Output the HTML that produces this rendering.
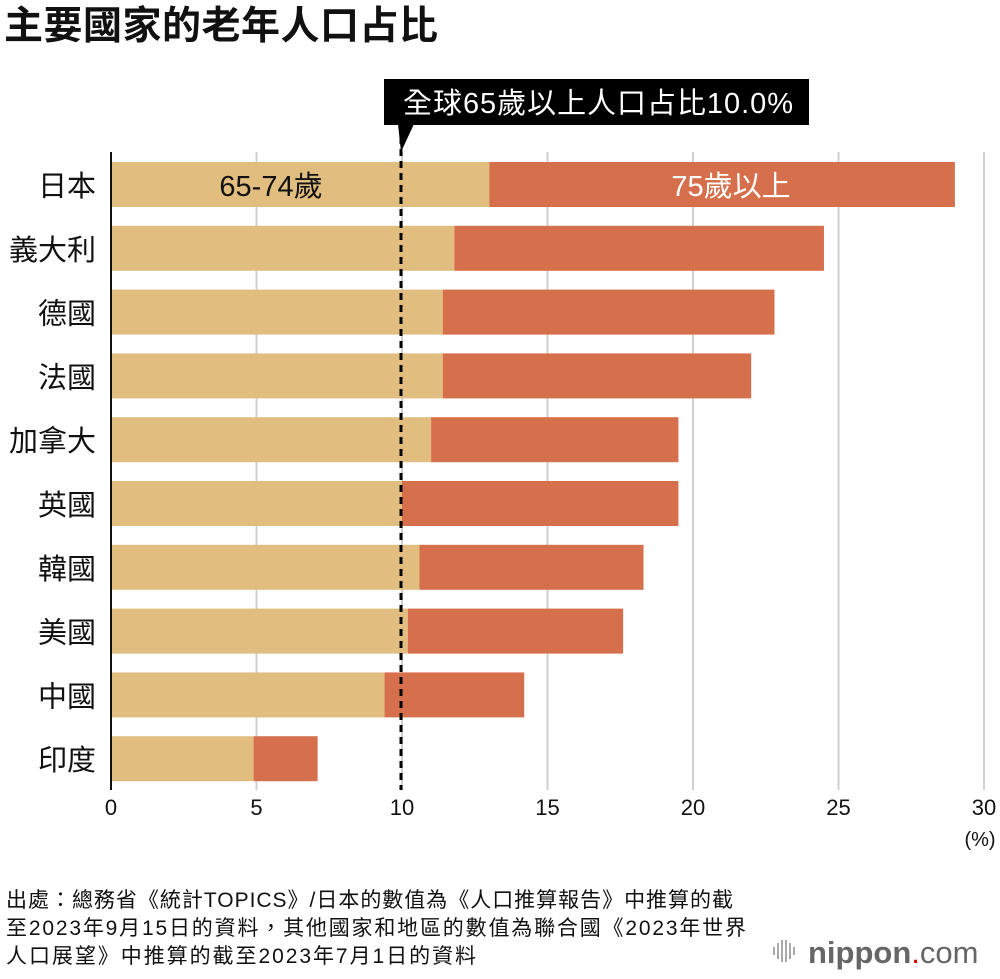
<!DOCTYPE html>
<html><head><meta charset="utf-8"><style>
body{margin:0;background:#fff;width:1000px;height:974px;overflow:hidden;font-family:"Liberation Sans","Noto Sans CJK TC",sans-serif;}
svg text{font-family:"Liberation Sans","Noto Sans CJK TC",sans-serif;}
</style></head><body>
<svg id="chart" width="1000" height="974">
<text x="4" y="39" font-size="39" font-weight="bold" fill="#111" textLength="434">主要國家的老年人口占比</text>
<g id="grid"></g>
<g id="bars"></g>
<g id="axis"></g>
<g>
<line x1="401" y1="125" x2="401" y2="790" stroke="#000" stroke-width="3" stroke-dasharray="7,5"/>
<rect x="384" y="79" width="425" height="46" fill="#000"/>
<polygon points="398,124 414,124 401,152" fill="#000"/>
<text x="598" y="113" font-size="29" fill="#fff" text-anchor="middle" textLength="390">全球65歲以上人口占比10.0%</text>
</g>
<text x="980" y="846" font-size="20" fill="#111" text-anchor="middle">(%)</text>
<g font-size="21" fill="#111">
<text x="6" y="907" textLength="727">出處：總務省《統計TOPICS》/日本的數值為《人口推算報告》中推算的截</text>
<text x="6" y="935" textLength="740">至2023年9月15日的資料，其他國家和地區的數值為聯合國《2023年世界</text>
<text x="6" y="963" textLength="470">人口展望》中推算的截至2023年7月1日的資料</text>
</g>
<g>
<g stroke="#aaa" stroke-width="2"><line x1="774" y1="947" x2="774" y2="955"/><line x1="778" y1="943" x2="778" y2="959"/><line x1="782" y1="940" x2="782" y2="962"/><line x1="786" y1="940" x2="786" y2="962"/><line x1="790" y1="943" x2="790" y2="959"/><line x1="794" y1="947" x2="794" y2="955"/></g>
<text x="808" y="963" font-size="31" fill="#666"><tspan font-weight="bold">nippon</tspan><tspan fill="#e30000">.</tspan><tspan>com</tspan></text>
</g>
</svg>
<script>
const countries=["日本","義大利","德國","法國","加拿大","英國","韓國","美國","中國","印度"];
const young=[13.0,11.8,11.4,11.4,11.0,10.0,10.6,10.2,9.4,4.9];
const total=[29.0,24.5,22.8,22.0,19.5,19.5,18.3,17.6,14.2,7.1];
const ticks=[0,5,10,15,20,25,30];
const NS="http://www.w3.org/2000/svg";
const x=v=>111+v*29.1;
const rowY=i=>162+i*63.8;
function mk(t,a,p){const e=document.createElementNS(NS,t);for(const k in a)e.setAttribute(k,a[k]);p.appendChild(e);return e;}
const grid=document.getElementById('grid'),bars=document.getElementById('bars'),axis=document.getElementById('axis');
ticks.forEach(t=>{
 if(t>0){const g=mk('line',{x1:x(t),x2:x(t),y1:152,y2:790,stroke:'#d0d0d0','stroke-width':2},grid);
 
 }
 const l=mk('text',{x:x(t),y:815,'font-size':22,fill:'#111','text-anchor':'middle'},axis);l.textContent=t;
 
 
});
const ax=mk('line',{x1:111,x2:111,y1:152,y2:790,stroke:'#111','stroke-width':2},axis);


countries.forEach((c,i)=>{
 const y=rowY(i);
 const a=mk('rect',{x:x(0),y:y,width:x(young[i])-x(0),height:45,fill:'#e1be7f'},bars);
 
 
 const b=mk('rect',{x:x(young[i]),y:y,width:x(total[i])-x(young[i]),height:45,fill:'#d66f4b'},bars);
 
 
 const l=mk('text',{x:96,y:y+34,'font-size':29,fill:'#111','text-anchor':'end'},axis);l.textContent=c;
 
 
});
const s1=mk('text',{x:271,y:rowY(0)+34,'font-size':29,fill:'#111','text-anchor':'middle'},bars);s1.textContent='65-74歲';


const s2=mk('text',{x:731,y:rowY(0)+34,'font-size':29,fill:'#fff','text-anchor':'middle'},bars);s2.textContent='75歲以上';


</script>
</body></html>
